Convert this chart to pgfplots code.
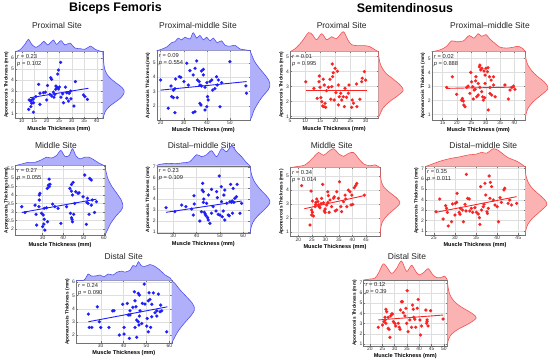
\documentclass[border=0pt]{standalone}
\usepackage{pgfplots}
\pgfplotsset{compat=1.18}
\usepackage{fontspec}
\setmainfont{Liberation Sans}
\definecolor{bpt}{RGB}{30,30,250}
\definecolor{rpt}{RGB}{250,35,35}
\definecolor{bfill}{RGB}{175,175,250}
\definecolor{rfill}{RGB}{250,178,178}
\definecolor{bedge}{RGB}{80,80,245}
\definecolor{redge}{RGB}{245,80,80}
\pgfplotsset{
 sc/.style={scale only axis, anchor=south west,
   axis line style={black!55, line width=0.4pt},
   grid=major, major grid style={black!13, line width=0.3pt},
   tick align=inside, major tick length=1.5bp, tick style={black!55, line width=0.3pt},
   ticklabel style={font=\fontsize{5}{5.5}\selectfont, text=black!80, inner sep=0.8bp},
   /pgf/number format/assume math mode=true,
   xlabel={Muscle Thickness (mm)}, ylabel={Aponeurosis Thickness (mm)},
   every axis x label/.style={at={(axis description cs:0.5,0)}, anchor=north, yshift=-7.6bp, font=\bfseries\fontsize{5.6}{6}\selectfont, inner sep=0pt},
   every axis y label/.style={at={(axis description cs:0,0.5)}, rotate=90, anchor=south, yshift=6.3bp, font=\bfseries\fontsize{4.7}{5}\selectfont, inner sep=0pt}},
 dtop/.style={scale only axis, anchor=south west, hide axis, ymin=0, ymax=1},
 dright/.style={scale only axis, anchor=south west, hide axis, xmin=0, xmax=1},
 bdot/.style={only marks, mark=*, mark size=1.6bp, color=bpt, mark options={draw=bpt, fill=bpt, line width=0.1pt}},
 rdot/.style={only marks, mark=*, mark size=1.6bp, color=rpt, mark options={draw=rpt, fill=rpt, line width=0.1pt}},
 bln/.style={bpt, line width=0.9pt, no marks},
 rln/.style={rpt, line width=0.9pt, no marks},
 bden/.style={smooth, fill=bfill, draw=bedge, line width=0.6pt, no marks},
 rden/.style={smooth, fill=rfill, draw=redge, line width=0.6pt, no marks},
}
\tikzset{rp/.style={anchor=north west, align=left, font=\fontsize{5.8}{6.8}\selectfont, inner sep=0pt, xshift=2bp, yshift=-2.5bp, text=black!85},
 ttl/.style={font=\fontsize{8.5}{10}\selectfont, text=black!85},
 hdr/.style={font=\bfseries\fontsize{12.5}{14}\selectfont}}
\begin{document}
\begin{tikzpicture}
\useasboundingbox (0,0) rectangle (550bp,362bp);
\node[hdr] at (115.5bp,354bp) {Biceps Femoris};
\node[hdr] at (405bp,354bp) {Semitendinosus};
\node[ttl] at (57bp,337bp) {Proximal Site};
\node[ttl] at (198bp,337bp) {Proximal-middle Site};
\node[ttl] at (341.7bp,337bp) {Proximal Site};
\node[ttl] at (490bp,337bp) {Proximal--middle Site};
\node[ttl] at (56bp,217bp) {Middle Site};
\node[ttl] at (201.7bp,217bp) {Distal--middle Site};
\node[ttl] at (331.7bp,216.3bp) {Middle Site};
\node[ttl] at (483.3bp,216.3bp) {Distal--middle Site};
\node[ttl] at (123.7bp,106bp) {Distal Site};
\node[ttl] at (407bp,105.3bp) {Distal Site};

% ---------- P1 BF proximal
\begin{axis}[sc, at={(15bp,243.7bp)}, width=87.7bp, height=66.6bp, xmin=7.33, xmax=42.4, ymin=0.55, ymax=6.54, xtick={10,15,...,40}, ytick={1,...,6}]
\addplot[bdot] coordinates {(25.6,5.58) (24.7,4.89) (24.4,4.53) (21.6,4.2) (22.0,4.05) (31.5,3.85) (16.8,3.6) (20.3,3.5) (23.7,3.45) (24.2,3.33) (24.7,3.19) (23.6,3.16) (25.1,3.36) (27.5,3.35) (29.6,3.0) (28.0,2.85) (29.0,2.8) (19.5,2.9) (22.7,2.9) (21.3,2.7) (22.0,2.55) (15.7,2.5) (14.7,2.3) (14.1,2.2) (13.6,2.1) (13.0,2.2) (14.7,1.95) (14.0,1.9) (22.9,2.45) (25.7,2.45) (26.4,2.75) (28.0,2.35) (29.7,2.3) (26.7,1.95) (28.7,2.1) (30.9,1.65) (34.7,2.65) (35.3,2.5) (36.3,2.25) (17.3,1.8) (13.7,1.6) (12.8,1.35) (14.7,1.1) (20.0,2.2) (18.7,2.85) (17.3,2.8) (23.3,2.7)};
\addplot[bln] coordinates {(13.3,2.4) (36.7,3.25)};
\node[rp] at (rel axis cs:0,1) {\textit{r} = 0.23\\\textit{p} = 0.102};
\end{axis}
\begin{axis}[dtop, at={(15bp,310.3bp)}, width=87.7bp, height=12.3bp, xmin=7.33, xmax=42.4]
\addplot[bden] coordinates {(7.33,0) (7.7,0.02) (9.3,0.15) (11.3,0.6) (12.7,1.0) (14,0.6) (15.7,0.35) (17.6,0.6) (18.9,0.85) (20.3,0.55) (21.6,0.75) (22.7,0.95) (24,0.6) (25.7,0.9) (27.3,0.55) (29.3,0.7) (31.3,0.3) (33.3,0.25) (35.3,0.2) (37.6,0.45) (39.3,0.2) (41.3,0.05) (42.4,0)};
\end{axis}
\begin{axis}[dright, at={(102.7bp,243.7bp)}, width=21.7bp, height=66.6bp, ymin=0.55, ymax=6.54]
\addplot[bden] coordinates {(0,0.55) (0.05,0.8) (0.13,1.2) (0.3,1.6) (0.57,2.0) (0.84,2.4) (1.0,2.9) (0.9,3.3) (0.64,3.7) (0.38,4.1) (0.2,4.5) (0.09,5.0) (0.05,5.5) (0.03,6.0) (0,6.54)};
\end{axis}

% ---------- P2 BF proximal-middle
\begin{axis}[sc, at={(156.7bp,242bp)}, width=93.3bp, height=69.3bp, xmin=18.3, xmax=58.7, ymin=1.03, ymax=5.83, xtick={20,30,40,50}, ytick={2,...,5}]
\addplot[bdot] coordinates {(20,3.8) (24.5,3.39) (25.5,3.1) (26.2,3.2) (24.8,2.65) (25.5,2.58) (27.2,2.58) (23.3,1.84) (26.2,1.54) (26.5,3.87) (28.1,4.03) (28.7,3.99) (31.3,4.96) (30.1,3.69) (32,3.45) (32.7,4.45) (34.1,4.15) (34.9,4.61) (35.6,5.12) (36,3.8) (36.7,3.69) (37,3.45) (37.7,4.42) (38.5,4.54) (38.5,4.15) (37.7,3.39) (37,2.18) (40,3.62) (39.2,3.3) (40.3,2.65) (40.6,2.42) (41.4,3.69) (42.1,3.8) (42.5,3.1) (43.5,3.2) (44.2,4.03) (44.5,3.45) (45,3.8) (45.7,1.95) (40,1.95) (39.2,1.72) (34.9,1.6) (34.1,1.54) (37.5,2.07) (50,5.07) (46.4,3.62) (56.9,3.39) (57.2,2.88)};
\addplot[bln] coordinates {(20,3.1) (57.2,3.69)};
\node[rp] at (rel axis cs:0,1) {\textit{r} = 0.09\\\textit{p} = 0.554};
\end{axis}
\begin{axis}[dtop, at={(156.7bp,311.3bp)}, width=93.3bp, height=18bp, xmin=18.3, xmax=58.7]
\addplot[bden] coordinates {(18.3,0) (19.7,0.05) (22.6,0.2) (24.8,0.45) (26.2,0.5) (27.6,0.7) (29.1,0.6) (30.5,0.75) (32.7,0.65) (34.1,1.0) (35.6,0.7) (37,0.85) (38.5,0.6) (39.9,0.75) (41.4,0.55) (42.8,0.7) (44.5,0.45) (46.4,0.55) (47.9,0.3) (50,0.25) (52.2,0.3) (54.3,0.1) (56.5,0.05) (58.7,0)};
\end{axis}
\begin{axis}[dright, at={(250bp,242bp)}, width=20bp, height=69.3bp, ymin=1.03, ymax=5.83]
\addplot[bden] coordinates {(0,1.03) (0.1,1.3) (0.2,1.7) (0.4,2.2) (0.65,2.7) (0.9,3.1) (1.0,3.45) (0.93,3.8) (0.72,4.2) (0.45,4.65) (0.22,5.1) (0.1,5.5) (0,5.83)};
\end{axis}

% ---------- P3 ST proximal
\begin{axis}[sc, at={(290bp,243.7bp)}, width=88.3bp, height=66.6bp, xmin=5, xmax=34.2, ymin=0.89, ymax=5.33, xtick={5,10,...,30}, ytick={1,...,5}]
\addplot[rdot] coordinates {(10.2,3.33) (12.9,2.89) (14.6,3.33) (14.7,3.71) (14.9,2.96) (15.2,2.27) (15.5,2.0) (14,2.22) (15.8,1.71) (16.2,1.67) (16.8,1.62) (16.6,1.89) (16,3.49) (16.3,3.11) (17.1,2.73) (17.7,2.96) (18.8,3.0) (18.2,3.49) (19.1,3.67) (19.3,3.93) (19,4.51) (19.9,4.22) (20.7,4.02) (21,3.11) (20.2,2.6) (19.6,2.11) (18.5,2.16) (21.3,2.33) (21.8,2.56) (22.1,2.11) (22.6,2.33) (23,1.67) (21,1.78) (23.2,2.89) (23.7,2.29) (24.3,2.56) (24.5,3.11) (25.6,2.11) (26,1.89) (25.4,1.62) (27,3.18) (27.1,1.67) (28.1,2.16) (28.7,3.33) (28.9,3.56) (29.6,4.0) (30,3.44)};
\addplot[rln] coordinates {(10.2,2.73) (30.3,2.73)};
\node[rp] at (rel axis cs:0,1) {\textit{r} = 0.01\\\textit{p} = 0.995};
\end{axis}
\begin{axis}[dtop, at={(290bp,310.3bp)}, width=88.3bp, height=20bp, xmin=5, xmax=34.2]
\addplot[rden] coordinates {(5,0) (6.7,0.15) (8.9,0.5) (11.1,0.95) (12.4,0.85) (13.8,0.6) (15.5,0.9) (17.1,0.6) (18.8,0.75) (20.4,0.65) (22.6,1.0) (24.1,0.6) (25.4,0.35) (27.6,0.3) (29.8,0.3) (31.4,0.25) (33.1,0.1) (34.2,0)};
\end{axis}
\begin{axis}[dright, at={(378.3bp,243.7bp)}, width=25bp, height=66.6bp, ymin=0.89, ymax=5.33]
\addplot[rden] coordinates {(0,0.89) (0.05,1.1) (0.2,1.6) (0.45,2.0) (0.78,2.4) (1.0,2.75) (0.88,3.1) (0.6,3.5) (0.3,3.9) (0.12,4.35) (0.04,4.8) (0,5.33)};
\end{axis}

% ---------- P4 ST proximal-middle
\begin{axis}[sc, at={(431.7bp,242bp)}, width=93.3bp, height=68.3bp, xmin=11.2, xmax=43.7, ymin=0.6, ymax=5.48, xtick={15,20,...,40}, ytick={1,...,5}]
\addplot[rdot] coordinates {(16.4,2.93) (18.4,3.69) (19.9,2.43) (21.6,2.02) (22.2,1.95) (22.4,1.67) (22.8,1.55) (21.9,2.14) (23.4,2.93) (23.9,3.02) (24.5,2.5) (24.8,4.0) (25.1,3.33) (25.5,2.98) (26,2.74) (25.7,2.1) (26.3,2.79) (26.5,3.4) (26.6,3.69) (26.9,2.26) (27.4,2.38) (27.4,3.21) (28,2.93) (27.8,4.4) (28,4.52) (28.3,4.17) (28.7,4.29) (28.6,2.62) (28.95,2.26) (29.2,2.02) (29.7,2.19) (29.4,4.1) (30.1,4.29) (30.6,4.05) (29.8,3.81) (30.8,4.33) (31.3,3.69) (31.5,2.93) (31.9,3.45) (31.5,2.5) (32.1,2.38) (32.7,3.1) (32.7,3.69) (33.3,2.26) (30.9,1.31) (29.8,3.21) (36.7,3.1) (38.5,2.74) (39.1,2.93) (39.7,3.02) (40.2,2.79) (37.9,2.1)};
\addplot[rln] coordinates {(16.4,2.86) (40.2,2.95)};
\node[rp] at (rel axis cs:0,1) {\textit{r} = 0.02\\\textit{p} = 0.888};
\end{axis}
\begin{axis}[dtop, at={(431.7bp,310.3bp)}, width=93.3bp, height=18bp, xmin=11.2, xmax=43.7]
\addplot[rden] coordinates {(11.2,0) (14.1,0.1) (16.4,0.3) (18.1,0.6) (19.9,0.55) (22.2,0.6) (24.3,0.9) (25.9,0.75) (27.4,1.0) (28.6,0.85) (30.1,0.95) (31.5,0.7) (33.3,0.45) (35,0.25) (37.3,0.2) (39.7,0.25) (41.4,0.3) (43.1,0.15) (43.7,0)};
\end{axis}
\begin{axis}[dright, at={(525bp,242bp)}, width=23bp, height=68.3bp, ymin=0.6, ymax=5.48]
\addplot[rden] coordinates {(0,0.6) (0.03,0.9) (0.12,1.4) (0.35,1.9) (0.68,2.35) (1.0,2.85) (0.85,3.3) (0.55,3.7) (0.3,4.1) (0.12,4.55) (0.04,5.0) (0,5.48)};
\end{axis}

% ---------- P5 BF middle
\begin{axis}[sc, at={(15bp,127bp)}, width=90bp, height=69.3bp, xmin=16.5, xmax=60.5, ymin=1.65, ymax=5.71, xtick={30,40,50,60}, ytick={2,2.5,...,5.5}]
\addplot[bdot] coordinates {(19.8,3.31) (21.4,2.97) (26.3,3.40) (26.8,2.86) (27.1,2.23) (28.2,3.31) (28.4,3.99) (28.7,4.09) (28.4,3.70) (29.5,2.92) (30.3,2.82) (30.8,3.21) (30.8,2.57) (30.6,2.29) (31.1,1.94) (30.0,2.14) (32.4,2.43) (33.2,4.92) (32.8,4.57) (33.2,4.48) (33.6,4.62) (32.3,4.38) (31.9,3.25) (34.9,3.46) (36.0,3.31) (37.6,3.21) (38.9,2.33) (41.7,3.31) (43.3,4.38) (44.1,4.61) (44.9,4.73) (44.1,4.22) (44.6,3.99) (43.6,2.92) (44.1,2.66) (44.4,2.57) (44.6,2.43) (45.2,2.86) (45.7,3.50) (46.2,4.18) (47.3,4.09) (47.8,4.12) (49.8,3.89) (50.6,5.16) (51.4,2.27) (51.7,3.56) (52.2,3.50) (52.7,2.86) (53.0,4.96) (53.8,4.87) (53.8,3.40) (54.3,3.70) (55.4,2.97) (56.3,3.60) (51.9,3.80)};
\addplot[bln] coordinates {(19.8,2.97) (56.3,3.75)};
\node[rp] at (rel axis cs:0,1) {\textit{r} = 0.27\\\textit{p} = 0.055};
\end{axis}
\begin{axis}[dtop, at={(15bp,196.3bp)}, width=90bp, height=17bp, xmin=16.5, xmax=60.5]
\addplot[bden] coordinates {(16.5,0) (19.8,0.1) (23,0.2) (26.3,0.2) (29.5,0.35) (31.9,0.5) (34.4,0.45) (36.8,0.6) (38.9,0.9) (40.9,0.55) (43,0.6) (44.6,1.0) (46.2,0.6) (48.2,0.4) (50.6,0.5) (52.7,0.5) (55,0.35) (57.6,0.15) (60.3,0)};
\end{axis}
\begin{axis}[dright, at={(105bp,127bp)}, width=18bp, height=69.3bp, ymin=1.65, ymax=5.71]
\addplot[bden] coordinates {(0,1.65) (0.12,1.9) (0.3,2.3) (0.6,2.75) (0.9,3.1) (1.0,3.35) (0.9,3.7) (0.65,4.1) (0.38,4.5) (0.18,4.9) (0.07,5.3) (0,5.71)};
\end{axis}

% ---------- P6 BF distal-middle
\begin{axis}[sc, at={(156.7bp,128.7bp)}, width=93.3bp, height=67.6bp, xmin=22.9, xmax=62.9, ymin=0.87, ymax=7.09, xtick={30,40,50,60}, ytick={1,...,7}]
\addplot[bdot] coordinates {(26.9,3.23) (30.7,2.86) (33.6,3.47) (35.4,3.32) (37.9,3.1) (38.6,2.55) (38.9,4.33) (39,3.56) (41.4,2.0) (42.1,2.86) (42.6,5.47) (42.4,4.85) (42.9,4.7) (43.1,4.02) (42.9,3.72) (43.3,2.8) (43.7,2.64) (44,2.49) (44.7,2.31) (45,2.09) (45.7,1.79) (44.3,3.63) (45.1,4.39) (46.4,2.71) (46.4,4.91) (47.1,3.32) (48.3,2.92) (48.6,4.7) (48.9,4.15) (49.3,2.61) (49.7,6.14) (50,2.55) (50.6,5.16) (50.7,3.78) (51,2.4) (51.4,2.92) (51.7,4.39) (52.1,4.85) (52.1,2.09) (52.9,3.63) (53.6,2.55) (54,2.49) (54.3,3.78) (54.6,5.37) (55,3.72) (55.3,3.84) (55.4,2.71) (55.7,5.0) (56,3.72) (56.4,4.09) (57.1,4.24) (57.4,5.37) (58.6,2.71) (59.3,3.63)};
\addplot[bln] coordinates {(26.9,2.8) (59.3,3.84)};
\node[rp] at (rel axis cs:0,1) {\textit{r} = 0.23\\\textit{p} = 0.109};
\end{axis}
\begin{axis}[dtop, at={(156.7bp,196.3bp)}, width=93.3bp, height=20bp, xmin=22.9, xmax=62.9]
\addplot[bden] coordinates {(22.9,0) (23.6,0.05) (26,0.1) (27.9,0.12) (31,0.1) (34.3,0.15) (37.1,0.2) (40,0.55) (42.1,0.45) (44.3,0.55) (46.4,0.75) (48.6,0.45) (50.7,0.85) (52.9,0.7) (55,1.0) (57.1,0.7) (59.3,0.45) (61.4,0.15) (62.9,0)};
\end{axis}
\begin{axis}[dright, at={(250bp,128.7bp)}, width=20bp, height=67.6bp, ymin=0.87, ymax=7.09]
\addplot[bden] coordinates {(0,0.87) (0.04,1.3) (0.15,1.9) (0.4,2.5) (0.75,3.1) (1.0,3.7) (0.88,4.2) (0.62,4.7) (0.38,5.2) (0.2,5.7) (0.09,6.2) (0.03,6.7) (0,7.09)};
\end{axis}

% ---------- P7 ST middle
\begin{axis}[sc, at={(290bp,125.3bp)}, width=90bp, height=69bp, xmin=16.9, xmax=50.2, ymin=0.64, ymax=5.6, xtick={20,25,...,45}, ytick={1,...,5}]
\addplot[rdot] coordinates {(21.2,4.31) (24.7,3.92) (25.2,3.2) (24.9,2.56) (25.2,2.39) (25.6,2.13) (24.3,1.48) (24.9,2.2) (26.2,2.8) (26.4,2.96) (26.8,3.35) (26.5,3.11) (27.2,3.16) (27.4,2.92) (27.7,2.8) (28,2.72) (28.4,3.01) (28.6,3.4) (29,4.4) (29.3,3.08) (29.6,2.49) (29.9,2.39) (29.9,2.63) (30.5,2.92) (30.9,3.87) (31.1,3.59) (30.9,3.11) (31.4,2.39) (31.7,3.28) (32.3,2.8) (33,3.4) (33.3,3.51) (33.6,2.49) (34.2,3.87) (34.2,2.56) (34.8,3.4) (35.2,4.59) (35.7,2.8) (36.0,2.44) (36.7,3.16) (37.3,3.63) (37.5,3.35) (37.9,2.8) (38.5,3.99) (39.1,3.87) (39.5,2.92) (39.8,3.63) (40.1,2.96) (40.7,4.16) (41.2,4.31) (41.6,4.47) (44.4,3.63)};
\addplot[rln] coordinates {(22.2,2.65) (44.5,3.6)};
\node[rp] at (rel axis cs:0,1) {\textit{r} = 0.34\\\textit{p} = 0.014};
\end{axis}
\begin{axis}[dtop, at={(290bp,194.3bp)}, width=90bp, height=19bp, xmin=16.9, xmax=50.2]
\addplot[rden] coordinates {(16.9,0) (19,0.05) (22.5,0.15) (25.6,0.55) (27.4,0.8) (29.3,0.65) (31.1,0.85) (33,1.0) (34.8,0.75) (36.7,0.6) (38.5,0.75) (40.4,0.8) (42.2,0.5) (44.1,0.2) (46.5,0.1) (48.4,0.15) (50.2,0)};
\end{axis}
\begin{axis}[dright, at={(380bp,125.3bp)}, width=20bp, height=69bp, ymin=0.64, ymax=5.6]
\addplot[rden] coordinates {(0,0.64) (0.03,1.2) (0.12,1.7) (0.38,2.2) (0.78,2.7) (1.0,3.05) (0.85,3.4) (0.5,3.8) (0.2,4.2) (0.07,4.6) (0.02,5.1) (0,5.6)};
\end{axis}

% ---------- P8 ST distal-middle
\begin{axis}[sc, at={(425bp,127bp)}, width=100bp, height=68.3bp, xmin=22.9, xmax=46.6, ymin=0.62, ymax=7.16, xtick={25,30,...,45}, ytick={1,...,7}]
\addplot[rdot] coordinates {(25.5,2.85) (26.4,4.07) (27.2,2.15) (27.8,3.43) (28,3.17) (28.2,2.79) (28.4,1.48) (29.2,1.89) (29.4,3.59) (30,2.53) (30.1,3.65) (30.4,3.75) (30.5,4.61) (31,2.79) (31.2,2.6) (31.3,3.17) (31.8,3.01) (32,1.89) (32.4,3.56) (32.6,2.92) (32.7,6.43) (33,4.13) (33.4,4.07) (33.5,2.92) (33.9,3.17) (34.2,2.79) (34.7,3.24) (35.1,2.79) (35.5,2.63) (35.8,2.28) (35.9,1.64) (36.1,5.25) (36.3,3.01) (36.7,3.33) (36.9,3.56) (37.1,5.57) (37.3,4.45) (37.6,2.85) (37.7,2.69) (37.9,3.17) (38.1,6.27) (38.3,4.13) (38.4,5.66) (38.7,5.25) (39.1,3.97) (39.5,3.49) (40,3.33) (40.3,1.89) (40.7,4.19) (41.0,3.75) (41.6,4.93) (41.8,5.09) (42.6,3.65) (43,3.97) (43.4,3.49) (44.6,3.65)};
\addplot[rln] coordinates {(25.5,2.79) (44.6,4.29)};
\node[rp] at (rel axis cs:0,1) {\textit{r} = 0.35\\\textit{p} = 0.011};
\end{axis}
\begin{axis}[dtop, at={(425bp,195.3bp)}, width=100bp, height=18bp, xmin=22.9, xmax=46.6]
\addplot[rden] coordinates {(22.9,0) (24.1,0.1) (26.4,0.3) (28.8,0.45) (31.2,0.55) (33.1,0.65) (35.1,0.7) (36.3,0.8) (37.5,0.75) (39.1,1.0) (40.3,0.9) (41.4,0.7) (42.6,0.5) (44.2,0.35) (45.4,0.2) (46.6,0)};
\end{axis}
\begin{axis}[dright, at={(525bp,127bp)}, width=22bp, height=68.3bp, ymin=0.62, ymax=7.16]
\addplot[rden] coordinates {(0,0.62) (0.03,1.0) (0.12,1.6) (0.33,2.2) (0.7,2.9) (1.0,3.55) (0.85,4.1) (0.58,4.6) (0.33,5.1) (0.16,5.6) (0.07,6.1) (0.02,6.6) (0,7.16)};
\end{axis}

% ---------- P9 BF distal
\begin{axis}[sc, at={(76bp,19bp)}, width=95.7bp, height=62.3bp, xmin=19.2, xmax=61, ymin=1.4, ymax=6.12, xtick={30,40,50,60}, ytick={2,...,6}]
\addplot[bdot] coordinates {(24.6,3.59) (25,2.58) (26.1,2.58) (28.5,4.14) (29.4,3.01) (30,2.58) (33.6,2.58) (35.2,3.84) (35.8,3.84) (38.1,2.0) (39.6,4.33) (40.2,2.58) (40.2,2.08) (41.6,4.4) (42.5,1.75) (42.8,3.52) (44.7,5.28) (45,4.6) (45.7,3.14) (45.7,1.83) (46.4,5.16) (46.9,5.03) (46.7,2.76) (47.2,3.84) (47.9,2.88) (49.3,4.35) (50.1,2.68) (50.3,3.26) (50.8,2.25) (49,5.86) (48.2,4.4) (51.1,5.2) (53,5.2) (55.2,5.1) (50.8,4.6) (51.5,4.7) (52.3,4.33) (56.2,4.27) (54.5,3.84) (55.9,3.77) (56.6,3.84) (53.7,3.69) (54.5,3.44) (52.3,3.39) (51.8,2.58) (58.8,2.25) (45,2.58) (46.4,3.01) (46.9,3.44) (45.4,4.14) (42,3.52) (42.8,3.84) (44,4.1)};
\addplot[bln] coordinates {(24.6,3.01) (59.1,4.14)};
\node[rp] at (rel axis cs:0,1) {\textit{r} = 0.24\\\textit{p} = 0.090};
\end{axis}
\begin{axis}[dtop, at={(76bp,81.3bp)}, width=95.7bp, height=19bp, xmin=19.2, xmax=61]
\addplot[bden] coordinates {(19.2,0) (22.7,0.03) (24.5,0.35) (25.8,0.25) (27.9,0.25) (29.7,0.3) (31.4,0.2) (33.2,0.35) (35.4,0.3) (37.1,0.45) (39.3,0.5) (40.6,0.45) (41.9,0.5) (42.8,0.55) (44.1,0.8) (45.4,0.75) (46.5,1.0) (47.6,0.8) (49.3,0.75) (51.5,0.85) (53.7,0.75) (55.9,0.55) (58.1,0.3) (60.3,0.15) (61,0)};
\end{axis}
\begin{axis}[dright, at={(171.7bp,19bp)}, width=23bp, height=62.3bp, ymin=1.4, ymax=6.12]
\addplot[bden] coordinates {(0,1.4) (0.12,1.8) (0.28,2.3) (0.55,2.9) (0.85,3.5) (1.0,3.95) (0.9,4.4) (0.62,4.95) (0.35,5.45) (0.15,5.9) (0,6.12)};
\end{axis}

% ---------- P10 ST distal
\begin{axis}[sc, at={(363.3bp,16bp)}, width=84bp, height=66bp, xmin=17.3, xmax=51.4, ymin=0.8, ymax=7.26, xtick={20,25,...,50}, ytick={1,...,7}]
\addplot[rdot] coordinates {(23.4,2.63) (26.1,3.61) (26.1,3.35) (26.5,4.39) (26.8,4.16) (26.5,3.02) (27.4,2.53) (27.8,2.43) (28.1,1.65) (28.4,3.74) (28.8,3.93) (29.2,3.93) (29.5,3.18) (30.1,3.02) (30.5,2.76) (31.5,3.02) (31.9,2.63) (32.2,2.43) (32.4,4.32) (32.8,5.14) (33.2,5.14) (33.5,4.06) (34.2,3.74) (34.6,4.49) (34.9,3.02) (35.1,6.21) (35.5,2.21) (36.2,3.35) (36.9,2.63) (37.3,4.81) (37.6,4.39) (37.8,3.61) (38.2,3.41) (38.6,2.63) (39.2,4.49) (39.6,5.36) (40.3,3.35) (40.5,1.88) (40.9,2.76) (42.7,4.32) (43.2,3.35) (43.2,3.18) (43.6,2.76) (42.97,3.02) (44.6,4.26) (49.7,3.44) (25.1,2.86) (25.7,3.18) (27.4,3.61)};
\addplot[rln] coordinates {(23.4,3.35) (49.7,3.83)};
\node[rp] at (rel axis cs:0,1) {\textit{r} = 0.12\\\textit{p} = 0.39};
\end{axis}
\begin{axis}[dtop, at={(363.3bp,82bp)}, width=84bp, height=19bp, xmin=17.3, xmax=51.4]
\addplot[rden] coordinates {(17.3,0) (20,0.05) (22,0.1) (23.4,0.35) (25.4,0.85) (27,0.65) (28.8,0.35) (30.8,0.6) (32.8,1.0) (34.9,0.45) (36.9,0.78) (38.6,0.45) (40,0.27) (41.9,0.4) (43.6,0.6) (45.4,0.3) (47,0.13) (48.6,0.12) (50.4,0.2) (51.4,0)};
\end{axis}
\begin{axis}[dright, at={(447.3bp,16bp)}, width=29bp, height=66bp, ymin=0.8, ymax=7.26]
\addplot[rden] coordinates {(0,0.8) (0.02,1.2) (0.1,1.8) (0.35,2.4) (0.75,3.0) (1.0,3.55) (0.85,4.0) (0.55,4.5) (0.3,5.0) (0.15,5.5) (0.07,6.0) (0.03,6.5) (0,7.26)};
\end{axis}
\end{tikzpicture}
\end{document}
